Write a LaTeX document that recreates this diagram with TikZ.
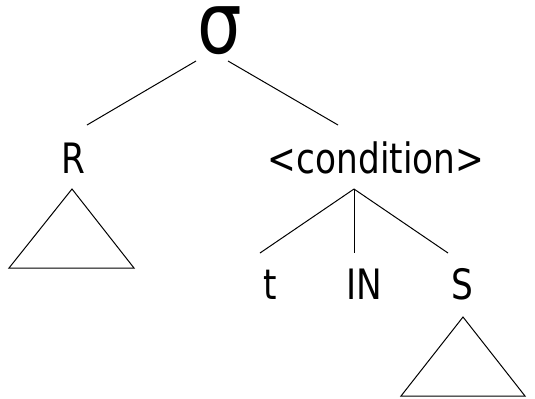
\documentclass[tikz,border=0pt]{standalone}
\usepackage{fontspec}
\setmainfont[FakeStretch=0.82]{DejaVu Sans}

\tikzset{
  lbl/.style={inner sep=0pt, anchor=base, font=\fontsize{42}{50}\selectfont},
  branch/.style={line width=1pt},
  subtree/.style={line width=1pt, line join=miter}
}

\begin{document}
\begin{tikzpicture}[x=1bp, y=-1bp]
   \useasboundingbox (0,0) rectangle (535,398);

   % labels of the tree
   \node[lbl, font=\fontsize{86}{90}\selectfont] (sigma) at (220,53) {σ};
   \node[lbl] (R) at (73,173) {R};
   \node[lbl] (cond) at (376,173) {<condition>};
   \node[lbl] (t) at (270,299) {t};
   \node[lbl] (in) at (364,299) {IN};
   \node[lbl] (S) at (462,299) {S};

   % ends of the branches
   \coordinate (sigL) at (196,61);
   \coordinate (sigR) at (228,61);
   \coordinate (Rtop) at (87,125);
   \coordinate (condtop) at (338,125);
   \coordinate (fork) at (354,189);
   \coordinate (tTop) at (260,253);
   \coordinate (inTop) at (354,253);
   \coordinate (sTop) at (448,253);

   \draw[branch] (sigL) -- (Rtop);
   \draw[branch] (sigR) -- (condtop);
   \draw[branch] (fork) -- (tTop);
   \draw[branch] (fork) -- (inTop);
   \draw[branch] (fork) -- (sTop);

   % subtrees below R and S
   \draw[subtree] (72,189) -- (9,268) -- (134,268) -- cycle;
   \draw[subtree] (463,317) -- (401,396) -- (525,396) -- cycle;
\end{tikzpicture}
\end{document}
